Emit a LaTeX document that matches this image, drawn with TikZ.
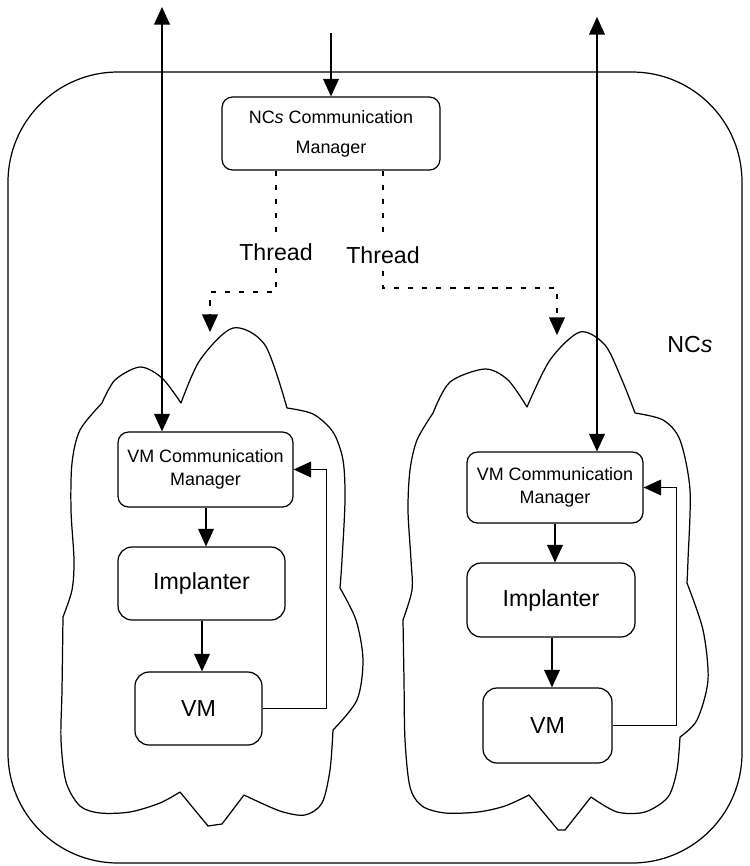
\documentclass[tikz,border=0pt]{standalone}
\usepackage{fontspec}
\setmainfont{Liberation Sans}
\usetikzlibrary{arrows.meta}
\tikzset{
  box/.style={draw, line width=0.7pt, rounded corners=6pt, align=center, font=\fontsize{10.2}{13}\selectfont},
  bigbox/.style={box, rounded corners=8pt, font=\fontsize{13.2}{15}\selectfont},
  tag/.style={font=\fontsize{13.2}{15}\selectfont, inner sep=4pt},
  link/.style={line width=0.7pt, -{Triangle[length=10pt,width=9pt]}},
  twoway/.style={line width=0.7pt, {Triangle[length=10pt,width=9pt]}-{Triangle[length=10pt,width=9pt]}},
  thread/.style={line width=0.7pt, dash pattern=on 3pt off 5pt, -{Triangle[length=10pt,width=9pt]}},
  cloudline/.style={line width=0.7pt, line join=round},
}
\begin{document}
\begin{tikzpicture}[x=0.02cm,y=-0.02cm]
\useasboundingbox (0,0) rectangle (750,866);

\draw[line width=0.7pt, rounded corners=2.2cm] (8,72) rectangle (742,863);
\node[tag] (ncs) at (690,345) {NC\textit{s}};

% the two virtual machine clouds
\draw[cloudline] plot[smooth] coordinates {(102,403) (115,380) (140,367) (162,378) (181,403)}
  -- plot[smooth] coordinates {(181,403) (200,360) (233,328) (265,345) (287,408)}
  -- plot[smooth] coordinates {(287,408) (313,414) (333,432) (343,460) (345,500) (342,560) (340,588)}
  -- plot[smooth] coordinates {(340,588) (356,620) (363,660) (357,700) (333,730)}
  -- plot[smooth] coordinates {(333,730) (330,770) (322,803) (305,815) (280,811) (244,795)}
  -- (222,824) -- (208,826) -- (180,792)
  -- plot[smooth] coordinates {(180,792) (160,803) (130,812) (100,813) (80,806) (66,782) (61,740) (62,690) (63,617)}
  -- plot[smooth] coordinates {(63,617) (72,590) (74,560) (71,510) (72,463) (80,430) (102,403)} -- cycle;
\draw[cloudline] plot[smooth] coordinates {(433,413) (450,382) (485,369) (508,380) (527,407)}
  -- plot[smooth] coordinates {(527,407) (550,360) (580,332) (605,345) (622,380) (635,413)}
  -- plot[smooth] coordinates {(635,413) (663,420) (680,440) (690,490) (688,560) (687,583)}
  -- plot[smooth] coordinates {(687,583) (703,630) (708,680) (697,720) (680,737)}
  -- plot[smooth] coordinates {(680,737) (677,770) (668,797) (645,812) (617,812) (591,797)}
  -- (565,830) -- (558,830) -- (529,795)
  -- plot[smooth] coordinates {(529,795) (505,806) (478,812) (445,813) (422,806) (410,787) (405,740) (404,680) (403,620)}
  -- plot[smooth] coordinates {(403,620) (412,590) (411,560) (408,510) (410,470) (417,440) (433,413)} -- cycle;

\node[box, font=\fontsize{10.2}{17}\selectfont, minimum width=4.36cm, minimum height=1.46cm] (ncm) at (331,133.5)
  {NC\textit{s} Communication\\Manager};

\node[box, minimum width=3.5cm, minimum height=1.5cm] (lcm) at (205.5,469.5) {VM Communication\\Manager};
\node[bigbox, minimum width=3.34cm, minimum height=1.46cm] (limp) at (201.5,583.5) {Implanter};
\node[bigbox, minimum width=2.54cm, minimum height=1.46cm] (lvm) at (198.5,708.5) {VM};

\node[box, minimum width=3.52cm, minimum height=1.42cm] (rcm) at (555,487.5) {VM Communication\\Manager};
\node[bigbox, minimum width=3.36cm, minimum height=1.48cm] (rimp) at (551,600) {Implanter};
\node[bigbox, minimum width=2.58cm, minimum height=1.5cm] (rvm) at (547.5,725.5) {VM};

\node[tag] (t1) at (276,252) {Thread};
\node[tag] (t2) at (383,255) {Thread};

\coordinate (ncmin) at (331,33);
\coordinate (ltop) at (162,7);
\coordinate (rtop) at (597,17);
\coordinate (lbend) at (276,292);
\coordinate (ltip) at (210,332);
\coordinate (rbend) at (383,288);
\coordinate (rtip) at (557,335);

\draw[link] (ncmin) -- (ncm.north);
\draw[twoway] (ltop) -- (ltop |- lcm.north);
\draw[twoway] (rtop) -- (rtop |- rcm.north);

\draw[thread, -] (ncm.south -| t1) -- (t1.north);
\draw[thread] (t1.south) -- (lbend) -| (ltip);
\draw[thread, -] (ncm.south -| t2) -- (t2.north);
\draw[thread] (t2.south) -- (rbend) -| (rtip);

\draw[link] (lcm.south -| 206,0) -- (limp.north -| 206,0);
\draw[link] (limp.south -| 202,0) -- (lvm.north -| 202,0);
\draw[link] (lvm.east) -- ++(64,0) |- (lcm.east);

\draw[link] (rcm.south -| 555,0) -- (rimp.north -| 555,0);
\draw[link] (rimp.south -| 552,0) -- (rvm.north -| 552,0);
\draw[link] (rvm.east) -- ++(64,0) |- (rcm.east);

\end{tikzpicture}
\end{document}
